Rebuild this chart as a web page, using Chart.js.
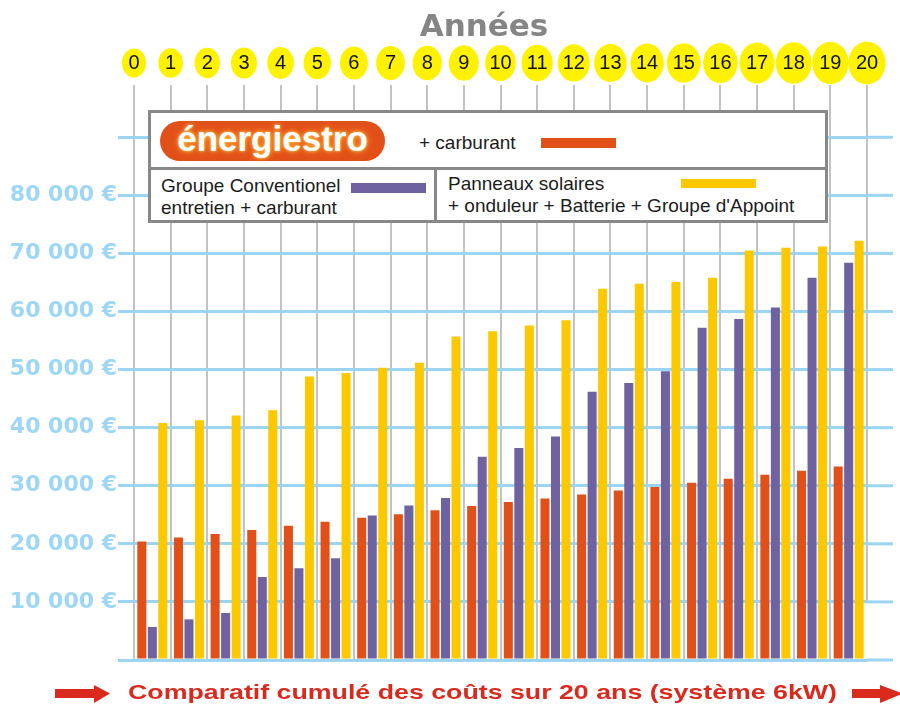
<!DOCTYPE html>
<html><head><meta charset="utf-8">
<script src="https://cdn.jsdelivr.net/npm/chart.js@4/dist/chart.umd.min.js"></script>
<style>
html,body{margin:0;padding:0;background:#fff;}
#wrap{position:relative;width:900px;height:704px;overflow:hidden;background:#fff;}
#c{position:absolute;left:0;top:0;}
.abs{position:absolute;white-space:nowrap;}
.lg{font-family:"Liberation Sans",Arial,sans-serif;font-size:19px;line-height:22px;color:#1c1c1c;}
.box{position:absolute;background:#888;}
</style></head>
<body><div id="wrap">
<canvas id="c" width="900" height="704"></canvas>
<div class="abs" style="left:0;width:968px;top:10px;text-align:center;font-family:'DejaVu Sans',sans-serif;font-weight:bold;font-size:31px;line-height:31px;color:#858585;">Années</div>

<div class="abs" style="left:148px;top:110px;width:680px;height:113px;box-sizing:border-box;border:3px solid #888;background:#fff;"></div>
<div class="box" style="left:148px;top:167px;width:680px;height:3px;"></div>
<div class="box" style="left:434px;top:167px;width:3px;height:56px;"></div>
<div class="abs" style="left:160px;top:121px;width:225px;height:40px;border-radius:20px;background:#E2501A;display:flex;align-items:center;justify-content:center;">
  <span style="font-family:'Liberation Sans',Arial,sans-serif;font-weight:bold;font-size:35px;line-height:40px;color:#fff;text-shadow:0 0 3px #FFC04A,0 0 6px #FFB030;position:relative;top:-2px;">énergiestro</span>
</div>
<div class="abs lg" style="left:419px;top:132px;">+ carburant</div>
<div class="abs" style="left:541px;top:138px;width:75px;height:10px;background:#E2501A;"></div>
<div class="abs lg" style="left:161px;top:175px;">Groupe Conventionel<br>entretien + carburant</div>
<div class="abs" style="left:351px;top:183px;width:75px;height:10px;background:#6F62A0;"></div>
<div class="abs lg" style="left:448px;top:173px;">Panneaux solaires<br>+ onduleur + Batterie + Groupe d'Appoint</div>
<div class="abs" style="left:681px;top:179px;width:75px;height:9px;background:#FCC900;"></div>

<svg class="abs" style="left:0;top:0;" width="900" height="704">
  <polygon fill="#DA2A1E" points="55,689 94,689 94,685 110,693.5 94,703 94,698 55,698"/>
  <polygon fill="#DA2A1E" points="852,689 880,689 880,685 903,693.5 880,703 880,698 852,698"/>
</svg>
<div class="abs" id="cap" style="left:128px;top:679px;font-family:'Liberation Sans Narrow','Liberation Sans',Arial,sans-serif;font-weight:bold;font-size:21px;line-height:26px;color:#DA2A1E;transform-origin:left top;">Comparatif cumulé des coûts sur 20 ans (système 6kW)</div>
</div>
<script>
const categories = ['0-1','1-2','2-3','3-4','4-5','5-6','6-7','7-8','8-9','9-10','10-11','11-12','12-13','13-14','14-15','15-16','16-17','17-18','18-19','19-20'];
const yearLabels = ['0','1','2','3','4','5','6','7','8','9','10','11','12','13','14','15','16','17','18','19','20'];
const energiestro = [20400, 21100, 21700, 22400, 23100, 23800, 24500, 25100, 25800, 26500, 27200, 27800, 28500, 29200, 29800, 30500, 31200, 31900, 32600, 33300];
const conventionnel = [5700, 7000, 8100, 14300, 15800, 17500, 24900, 26600, 27900, 35000, 36500, 38500, 46200, 47700, 49700, 57200, 58700, 60700, 65800, 68400];
const solaire = [40800, 41300, 42100, 43000, 48800, 49400, 50300, 51200, 55700, 56600, 57600, 58500, 63900, 64800, 65100, 65800, 70500, 71000, 71200, 72200];
const yTickValues = [0, 10000, 20000, 30000, 40000, 50000, 60000, 70000, 80000, 90000];
const yTickLabels = ['', '10 000 €', '20 000 €', '30 000 €', '40 000 €', '50 000 €', '60 000 €', '70 000 €', '80 000 €', ''];

const GRID_BLUE = '#9CD4F3';
const GRID_GREY = '#C3C3C3';

const yearBadges = {
  id: 'yearBadges',
  beforeDraw(chart) {
    const s = chart.scales.x2, ctx = chart.ctx;
    ctx.save();
    ctx.fillStyle = '#FFF200';
    s.ticks.forEach((t, i) => {
      const x = s.getPixelForValue(t.value);
      ctx.beginPath();
      ctx.ellipse(x, 63, 12 + 0.33 * i, 14.5 + 0.35 * i, 0, 0, Math.PI * 2);
      ctx.fill();
    });
    ctx.restore();
  }
};
const gridExtend = {
  id: 'gridExtend',
  beforeDatasetsDraw(chart) {
    const y = chart.scales.y, x2 = chart.scales.x2, ctx = chart.ctx, a = chart.chartArea;
    ctx.save();
    // last vertical line stops just below the 10 000 line
    ctx.strokeStyle = GRID_GREY; ctx.lineWidth = 2;
    const lx = x2.getPixelForValue(yearLabels.length - 1);
    ctx.beginPath(); ctx.moveTo(lx, a.top); ctx.lineTo(lx, y.getPixelForValue(yTickValues[1]) + 1); ctx.stroke();
    ctx.strokeStyle = GRID_BLUE; ctx.lineWidth = 3;
    y.ticks.forEach(t => {
      const py = y.getPixelForValue(t.value);
      ctx.beginPath(); ctx.moveTo(a.right - 1, py); ctx.lineTo(893, py); ctx.stroke();
    });
    ctx.restore();
  }
};

new Chart(document.getElementById('c'), {
  type: 'bar',
  data: {
    labels: categories,
    datasets: [
      { label: 'énergiestro + carburant', data: energiestro, backgroundColor: '#E2501A', xAxisID: 'x', yAxisID: 'y' },
      { label: 'Groupe Conventionel entretien + carburant', data: conventionnel, backgroundColor: '#6F62A0', xAxisID: 'x', yAxisID: 'y' },
      { label: "Panneaux solaires + onduleur + Batterie + Groupe d'Appoint", data: solaire, backgroundColor: '#FCC900', xAxisID: 'x', yAxisID: 'y' }
    ]
  },
  options: {
    responsive: false, animation: false,
    layout: { padding: { left: 0, right: 33, top: 0, bottom: 44 } },
    datasets: { bar: { categoryPercentage: 0.86, barPercentage: 0.86, borderWidth: 0 } },
    plugins: { legend: { display: false }, tooltip: { enabled: false }, title: { display: false } },
    scales: {
      x: { type: 'category', display: false, offset: true },
      x2: {
        type: 'linear', position: 'top', min: 0, max: 20, offset: false,
        afterBuildTicks: s => { s.ticks = yearLabels.map((_, i) => ({ value: i })); },
        afterFit: s => { s.height = 85; },
        ticks: { autoSkip: false, maxRotation: 0, minRotation: 0, padding: 10, color: '#111',
          font: { family: "'Liberation Sans Narrow', 'Liberation Sans', Arial, sans-serif", size: 20 },
          callback: (v, i) => yearLabels[i] },
        grid: { color: ctx => (ctx.index === yearLabels.length - 1 ? 'rgba(0,0,0,0)' : GRID_GREY),
          lineWidth: 2, drawTicks: false, offset: false, z: -1 },
        border: { display: false }
      },
      y: {
        type: 'linear', position: 'left', min: 0, max: 99000,
        afterBuildTicks: s => { s.ticks = yTickValues.map(v => ({ value: v })); },
        afterFit: s => { s.width = 134; },
        ticks: { padding: 1, color: '#9ED6F5',
          font: { family: "'DejaVu Sans', sans-serif", size: 22, weight: 'bold' },
          callback: (v, i) => yTickLabels[i] },
        grid: { color: GRID_BLUE, lineWidth: 3, tickLength: 16, drawTicks: true, z: 0 },
        border: { display: false }
      }
    }
  },
  plugins: [yearBadges, gridExtend]
});

(function fit() {
  const el = document.getElementById('cap');
  const w = el.getBoundingClientRect().width;
  if (w > 0) el.style.transform = 'scaleX(' + (709 / w) + ')';
})();
</script>
</body></html>
